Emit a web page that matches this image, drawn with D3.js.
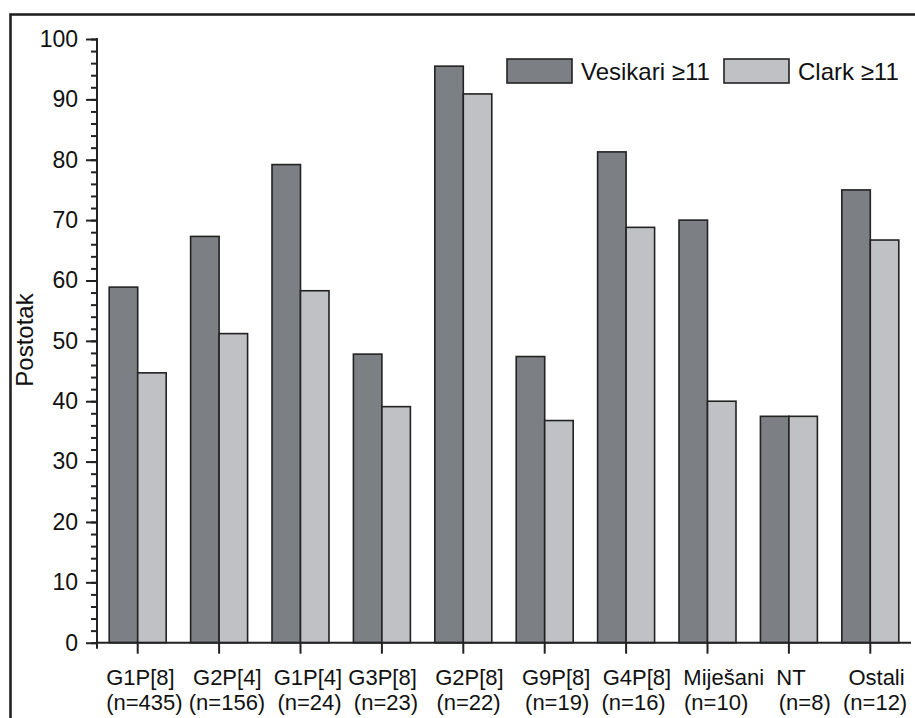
<!DOCTYPE html>
<html>
<head>
<meta charset="utf-8">
<script src="https://cdn.jsdelivr.net/npm/d3@7"></script>
<style>
  html,body{margin:0;padding:0;background:#fff;}
  svg{display:block;font-family:"Liberation Sans",Arial,sans-serif;}
</style>
</head>
<body>
<svg id="chart" width="915" height="718"></svg>
<script>
/* ---------- DATA ---------- */
const CATS=["G1P[8]","G2P[4]","G1P[4]","G3P[8]","G2P[8]","G9P[8]","G4P[8]","Miješani","NT","Ostali"];
const NS=["(n=435)","(n=156)","(n=24)","(n=23)","(n=22)","(n=19)","(n=16)","(n=10)","(n=8)","(n=12)"];
const VESIKARI=[58.9,67.3,79.2,47.8,95.5,47.4,81.3,70.0,37.5,75.0];
const CLARK=[44.7,51.2,58.3,39.1,90.9,36.8,68.8,40.0,37.5,66.7];
const SERIES=["Vesikari ≥11","Clark ≥11"];
const Y_TICKS=[0,10,20,30,40,50,60,70,80,90,100];

/* ---------- CONFIG ---------- */
const COLS=["#7c8084","#c0c1c4"];
const STROKE="#222";
const X0=97, X1=911, Y0=642.7, Y1=39;

const svg=d3.select("#chart");

/* outer frame (runs off right/bottom edge) */
svg.append("rect").attr("x",10.5).attr("y",14.5).attr("width",960).attr("height",760)
   .attr("fill","none").attr("stroke",STROKE).attr("stroke-width",2.6);

const x=d3.scaleBand().domain(CATS).range([X0,X1]).paddingInner(0.3).paddingOuter(0.15);
const xs=d3.scaleBand().domain(SERIES).range([0,x.bandwidth()]);
const y=d3.scaleLinear().domain([0,100]).range([Y0,Y1]);

/* bars */
const rows=CATS.map((c,i)=>({cat:c,vals:[VESIKARI[i],CLARK[i]]}));
const grp=svg.append("g").selectAll("g").data(rows).enter().append("g")
  .attr("transform",d=>`translate(${x(d.cat)},0)`);
grp.selectAll("rect").data(d=>d.vals.map((v,j)=>({s:SERIES[j],v,j}))).enter()
  .append("rect")
  .attr("x",d=>xs(d.s)).attr("width",xs.bandwidth())
  .attr("y",d=>y(d.v)).attr("height",d=>Y0-y(d.v))
  .attr("fill",d=>COLS[d.j]).attr("stroke",STROKE).attr("stroke-width",1.6);

/* y axis: minor ticks every 2 */
const yMinor=svg.append("g").attr("transform",`translate(${X0},0)`)
  .call(d3.axisLeft(y).tickValues(d3.range(0,101,2)).tickSize(6).tickFormat(""));
yMinor.select(".domain").remove();
yMinor.selectAll("line").attr("stroke",STROKE).attr("stroke-width",2);

const yAx=svg.append("g").attr("transform",`translate(${X0},0)`)
  .call(d3.axisLeft(y).tickValues(Y_TICKS).tickSize(11).tickPadding(8));
yAx.select(".domain").remove();
yAx.selectAll("line").attr("stroke",STROKE).attr("stroke-width",2);
yAx.selectAll("text").attr("fill","#111").style("font-size","23px")
   .style("font-family","'Liberation Sans',Arial,sans-serif");

/* y axis line, running slightly below zero */
svg.append("line").attr("x1",X0).attr("x2",X0).attr("y1",Y1-1).attr("y2",Y0+6)
   .attr("stroke",STROKE).attr("stroke-width",2);

/* x axis */
const xAx=svg.append("g").attr("transform",`translate(0,${Y0})`)
  .call(d3.axisBottom(x).tickSize(11).tickFormat(""));
xAx.select(".domain").remove();
xAx.selectAll("line").attr("stroke",STROKE).attr("stroke-width",2);
svg.append("line").attr("x1",X0).attr("x2",X1).attr("y1",Y0).attr("y2",Y0)
   .attr("stroke",STROKE).attr("stroke-width",2);

/* category labels: two running lines of text, spaced like the original */
const sp=n=>"\u00A0".repeat(n);
const GAP1=[3,2,1,3,3,2,2,2,7], GAP2=[1,2,2,3,4,2,3,5,2];
const line1=CATS.map((c,i)=>c+(i<GAP1.length?sp(GAP1[i]):"")).join("");
const line2=NS.map((c,i)=>c+(i<GAP2.length?sp(GAP2[i]):"")).join("");
const lab=svg.append("text").attr("fill","#111").style("font-size","22px");
lab.append("tspan").attr("x",x(CATS[0])-3).attr("y",684.5).text(line1);
lab.append("tspan").attr("x",x(CATS[0])-3).attr("y",709.5).text(line2);

/* axis title */
svg.append("text").attr("transform","translate(33,340) rotate(-90)")
  .attr("text-anchor","middle").attr("fill","#111").style("font-size","24px").text("Postotak");

/* legend */
const LEG_X=[507,724], LEG_Y=59;
const lg=svg.append("g").selectAll("g").data(SERIES).enter().append("g")
  .attr("transform",(d,i)=>`translate(${LEG_X[i]},${LEG_Y})`);
lg.append("rect").attr("width",65).attr("height",24)
  .attr("fill",(d,i)=>COLS[i]).attr("stroke",STROKE).attr("stroke-width",1.6);
lg.append("text").attr("x",74).attr("y",12).attr("dy","0.36em")
  .attr("fill","#111").style("font-size","24px").text(d=>d);
</script>
</body>
</html>
